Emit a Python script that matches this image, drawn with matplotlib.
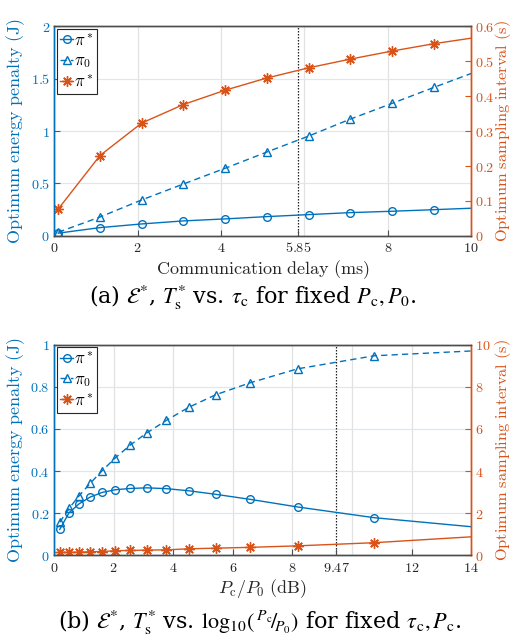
import numpy as np
import matplotlib
matplotlib.use("Agg")
import matplotlib.pyplot as plt

plt.rcParams['mathtext.fontset'] = 'cm'
plt.rcParams['font.family'] = ['DejaVu Serif']

BLUE = '#0072BD'
ORANGE = '#D95319'
EDGE = '#4d4d4d'

# ---------------- data: panel (a) ----------------
tau_c = [0.1, 1.1, 2.1, 3.1, 4.1, 5.1, 6.1, 7.1, 8.1, 9.1, 10.0]
E_opt_a = [0.026, 0.079, 0.114, 0.143, 0.162, 0.184, 0.203, 0.222, 0.235, 0.250, 0.264]
E_pi0_a = [0.035, 0.180, 0.343, 0.495, 0.645, 0.800, 0.952, 1.114, 1.264, 1.416, 1.550]
T_opt_a = [0.077, 0.230, 0.323, 0.376, 0.417, 0.452, 0.481, 0.506, 0.529, 0.550, 0.566]
xticks_a = [0, 2, 4, 5.85, 8, 10]
xtick_labels_a = ['0', '2', '4', '5.85', '8', '10']
yticks_a = [0, 0.5, 1, 1.5, 2]
ytick_labels_a = ['0', '0.5', '1', '1.5', '2']
y2ticks_a = [0, 0.1, 0.2, 0.3, 0.4, 0.5, 0.6]
y2tick_labels_a = ['0', '0.1', '0.2', '0.3', '0.4', '0.5', '0.6']

# ---------------- data: panel (b) ----------------
ratio_db = [0.19, 0.50, 0.84, 1.21, 1.61, 2.06, 2.56, 3.11, 3.77, 4.52, 5.43, 6.59, 8.17, 10.74, 14.0]
E_opt_b = [0.122, 0.201, 0.244, 0.276, 0.298, 0.311, 0.317, 0.320, 0.316, 0.306, 0.289, 0.265, 0.229, 0.178, 0.135]
E_pi0_b = [0.156, 0.222, 0.282, 0.341, 0.401, 0.463, 0.524, 0.581, 0.641, 0.703, 0.763, 0.820, 0.886, 0.948, 0.971]
T_opt_b = [0.13, 0.13, 0.14, 0.16, 0.17, 0.21, 0.22, 0.24, 0.25, 0.30, 0.33, 0.37, 0.44, 0.59, 0.87]
xticks_b = [0, 2, 4, 6, 8, 9.47, 12, 14]
xtick_labels_b = ['0', '2', '4', '6', '8', '9.47', '12', '14']
yticks_b = [0, 0.2, 0.4, 0.6, 0.8, 1]
ytick_labels_b = ['0', '0.2', '0.4', '0.6', '0.8', '1']
y2ticks_b = [0, 2, 4, 6, 8, 10]
y2tick_labels_b = ['0', '2', '4', '6', '8', '10']


def m(s):
    return [r'$%s$' % t for t in s]


def panel(rect, x, e_opt, e_pi0, t_opt, xlim, ylim, y2lim, xgrid, xticks, xlabs,
          yticks, ylabs, y2ticks, y2labs, vline, xlabel):
    ax = fig.add_axes(rect)
    ax2 = ax.twinx()

    # grid
    for g in xgrid:
        ax.axvline(g, color='#e2e2e2', lw=0.9, zorder=0)
    for g in yticks:
        ax.axhline(g, color='#dbe8f4', lw=0.9, zorder=0)
    ax.axvline(vline, color='#222222', lw=0.9, ls=(0, (1.2, 1.2)), zorder=1)

    mk = list(range(len(x) - 1))
    l1, = ax.plot(x, e_opt, '-', color=BLUE, lw=1.0, marker='o', ms=5.5,
                  mfc='none', mew=1.0, markevery=mk)
    l2, = ax.plot(x, e_pi0, '--', color=BLUE, lw=1.0, marker='^', ms=5.5,
                  mfc='none', mew=1.0, markevery=mk, dashes=(4.5, 3))
    l3, = ax2.plot(x, t_opt, '-', color=ORANGE, lw=1.0, marker=(8, 2, 0), ms=7.5,
                   mew=1.0, markevery=mk)

    ax.set_xlim(*xlim)
    ax.set_ylim(*ylim)
    ax2.set_ylim(*y2lim)
    ax.set_xticks(xticks)
    ax.set_xticklabels(m(xlabs), fontsize=10.2, color='#262626')
    ax.set_yticks(yticks)
    ax.set_yticklabels(m(ylabs), fontsize=10.2, color=BLUE)
    ax2.set_yticks(y2ticks)
    ax2.set_yticklabels(m(y2labs), fontsize=10.2, color=ORANGE)

    ax.tick_params(axis='x', direction='in', length=4, colors=EDGE, labelcolor='#262626', pad=4)
    ax.tick_params(axis='y', direction='in', length=4, colors=BLUE, pad=3)
    ax2.tick_params(axis='y', direction='in', length=4, colors=ORANGE, pad=3)

    for a in (ax, ax2):
        a.spines['top'].set_color(EDGE)
        a.spines['bottom'].set_color(EDGE)
        a.spines['left'].set_color(BLUE)
        a.spines['right'].set_color(ORANGE)
        for s in a.spines.values():
            s.set_linewidth(1.0)
    ax2.patch.set_visible(False)

    ax.set_xlabel(xlabel, fontsize=13, color='#262626', labelpad=2)
    ax.set_ylabel(r'$\mathrm{Optimum\ energy\ penalty\ (J)}$', fontsize=13, color=BLUE)
    ax2.set_ylabel(r'$\mathrm{Optimum\ sampling\ interval\ (s)}$', fontsize=11.8, color=ORANGE)
    ax.yaxis.set_label_coords(-0.064, 0.5)
    ax2.yaxis.set_label_coords(1.052, 0.5)

    leg = ax2.legend([l1, l2, l3], [r'$\pi^*$', r'$\pi_0$', r'$\pi^*$'],
                     loc='upper left', fontsize=12, handlelength=0.8,
                     handletextpad=0.05, borderpad=0.2, labelspacing=0.2,
                     borderaxespad=0.15, fancybox=False, framealpha=1)
    leg.get_frame().set_edgecolor('#262626')
    leg.get_frame().set_linewidth(0.8)
    return ax, ax2


fig = plt.figure(figsize=(5.15, 6.41), dpi=100)

panel([0.105, 0.632, 0.81, 0.327], tau_c, E_opt_a, E_pi0_a, T_opt_a,
      (0, 10), (0, 2), (0, 0.6), [0, 2, 4, 6, 8, 10], xticks_a, xtick_labels_a,
      yticks_a, ytick_labels_a, y2ticks_a, y2tick_labels_a, 5.85,
      r'$\mathrm{Communication\ delay\ (ms)}$')

panel([0.105, 0.134, 0.81, 0.328], ratio_db, E_opt_b, E_pi0_b, T_opt_b,
      (0, 14), (0, 1), (0, 10), [0, 2, 4, 6, 8, 10, 12, 14], xticks_b, xtick_labels_b,
      yticks_b, ytick_labels_b, y2ticks_b, y2tick_labels_b, 9.47,
      r'$P_{\mathrm{c}}/P_0\ \mathrm{(dB)}$')

fig.text(253 / 515, 1 - 297 / 641, r'(a) $\mathcal{E}^{*}$, $T_{\mathrm{s}}^{*}$ vs. $\tau_{\mathrm{c}}$ for fixed $P_{\mathrm{c}}, P_0$.',
         ha='center', va='center', fontsize=16, family='DejaVu Serif', math_fontfamily='stix')
fig.text(260 / 515, 1 - 623 / 641, r'(b) $\mathcal{E}^{*}$, $T_{\mathrm{s}}^{*}$ vs. $\mathrm{log}_{10}(\,^{P_{\mathrm{c}}}\!/\!_{P_0})$ for fixed $\tau_{\mathrm{c}}, P_{\mathrm{c}}$.',
         ha='center', va='center', fontsize=16, family='DejaVu Serif', math_fontfamily='stix')

fig.savefig('out.png', dpi=100)
